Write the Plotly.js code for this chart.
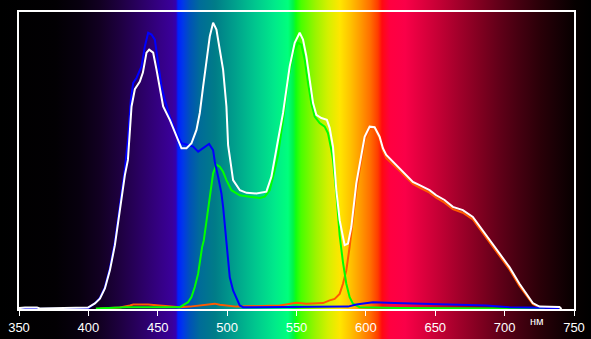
<!DOCTYPE html>
<html>
<head>
<meta charset="utf-8">
<script src="https://cdn.plot.ly/plotly-3.0.1.min.js"></script>
<style>
html,body{margin:0;padding:0;width:591px;height:339px;overflow:hidden;}
body{background:linear-gradient(to right,
 #000000 0px,#020003 55px,#08000f 80px,#120022 100px,#1e0040 120px,#2a0062 140px,#350085 160px,#3a009a 172px,#3400b0 176px,#0020ff 178px,#0038e8 183px,#0052b8 190px,#006c98 200px,#007c88 215px,#00a08c 235px,#00c68e 255px,#00ea8a 275px,#00ff7c 288px,#00f44a 293px,#10ff10 296px,#48ff00 301px,#98f400 315px,#d4f000 328px,#ffe600 340px,#ffc400 350px,#ff9c00 360px,#ff7000 370px,#ff3c00 378px,#ff0a10 382px,#ff0040 390px,#fa0048 405px,#e2003f 420px,#c20034 440px,#a0002a 460px,#800020 480px,#600018 500px,#440010 520px,#2a0008 540px,#150004 560px,#060000 575px,#000000 591px);}
#chart{width:591px;height:339px;}
</style>
</head>
<body>
<div id="chart"></div>
<script>
// Tick labels
const tickValues = [350, 400, 450, 500, 550, 600, 650, 700, 750];
const unitLabel = "нм";

// Total (white)
const whiteX = [350,354.3,363,365,399.7,404.7,408.3,411.9,415.5,419.1,422.7,426.3,428.5,431.1,433.5,437.1,439.3,441.9,443.8,446.7,449.1,451.5,453.9,458.7,463.5,467.1,470.7,474.3,477.9,480.3,482.7,485.1,487.5,489.9,492.3,494.7,497.1,499.5,500.7,501.9,504.3,509.2,514,521.1,528.3,531.9,534.3,536.7,540.3,545.1,548.7,552.3,554.7,557.1,559.5,561.9,564.3,567.9,571.9,573.9,576.3,578.7,581.1,584.7,587.1,589.5,593.1,596.7,599.1,602.7,606.3,609.9,612.3,614.7,619.5,624.3,629.1,633.9,638.7,645.9,650.7,656.7,662.7,669.9,677.1,681.4,689.1,696.3,703.5,710.7,715.5,720.3,725.1,739.5,741];
const whiteY = [0.3,0.5,0.5,0.2,0.5,1.9,3.5,6.9,13,21.5,33.3,45.1,50.2,68.2,74,76.6,79.6,86.3,87.3,86.3,80.6,74,68.2,63.7,58,54.1,54.1,55.8,60.3,66,74.9,84,91.8,96.4,94.1,87.3,80.6,68.2,55.2,51.3,43.4,40,39.1,38.9,39.5,44.5,51.3,56.9,66,81.7,89.6,93,90.7,85.1,77.2,69.4,65.4,64.3,63.7,61,54.7,40,29.9,21.5,22,27.6,42.3,52.4,58,61.4,61.2,58,54.1,51.9,49.6,47.4,45.1,42.8,41.7,40,38.3,36.7,34.4,33.3,31,28.2,23.1,18.6,14.1,8.5,5.1,2,0.8,0.7,0];

// Blue channel
const blueX = [350,399.7,404.7,408.3,411.9,415.5,419.1,422.7,426.3,428.5,430.6,432.3,434.7,438.3,440.7,443.1,445.5,447.9,450.3,452.7,455.1,458.7,463.5,467.1,471.9,475.5,479.1,482.7,487,489.9,491.1,493.5,495.9,497.1,499.5,500.7,501.9,504.3,506.7,509.1,511.5,561.7,587.1,593.1,600.3,605.1,620.7,656.7,686.7,703.5,739.5];
const blueY = [0,0.2,1.9,3.7,7.3,13.7,22.5,34.6,47.1,57,70.4,76.1,77.8,81.7,88.4,93,92.4,90.7,82.8,74.9,70.4,64.8,59.2,55.8,55.2,54.7,53,54.1,55.6,53.5,49.6,44.5,38.9,34.4,23.1,16.4,10.7,6.25,3.4,1.2,0.6,0.6,0.8,1.5,2.1,2.3,2,1.5,1.2,0.6,0.3];

// Green channel
const greenX = [405.4,417.9,427.5,465.9,468.3,471.9,474.3,476.7,479.1,480.3,482,483.2,486.3,487.5,489.9,492.3,494.7,497.1,499.5,503.1,509.1,516.3,523.5,527.1,530.7,534.3,536.7,540.3,543.9,547.5,551.1,553.5,555.9,558.3,560.7,563.1,566.7,570.3,572.7,575.1,576.3,578.7,581.1,583.5,585.9,588.3,590.7,595.5,624.3,728.7];
const greenY = [0.2,0.3,0.6,0.6,1.2,2.3,4,7.4,11.9,16.4,20.9,23.1,33.3,38.9,45.7,48.6,47.9,46.2,43.4,40,38.3,37.8,37.4,37.8,40,46.8,51.9,63.7,77.2,86.2,89.6,89,84,76.1,69.3,64.8,62.6,61.4,59.2,53.6,50.2,38.9,24.8,15.7,8.5,4,1.8,0.6,0.3,0.1];

// Red channel (orange)
const redX = [408.3,422.7,429.9,432.3,443.1,452.7,465.9,473.1,480.3,487.5,491.1,494.7,499.5,506.7,537.9,549.9,557.1,569.1,573.9,577.5,581.1,583.5,585.9,587.1,588.3,593.1,596.7,599.1,602.7,606.3,609.9,612.3,614.7,619.5,624.3,629.1,633.9,638.7,645.9,650.7,656.7,662.7,669.9,677.1,681.4,689.1,696.3,703.5,710.7,715.5,720.3,725.1,728.7];
const redY = [0.2,0.5,1.2,1.5,1.5,1.1,0.6,0.8,1.2,1.5,1.8,1.4,1.1,0.8,1.2,2.1,1.8,2,2.9,3.4,5.1,8.5,13,16.4,20.9,40,50.8,56.9,60.6,60.6,57.3,53.2,50.8,48.8,46.5,44.3,42.1,40.9,39.2,37.5,35.8,33.6,32.4,30.2,27.4,22.3,17.9,13.3,7.8,4.6,1.7,0.5,0.2];

const mk = (x, y, color) => ({x: x, y: y, type: 'scatter', mode: 'lines',
  line: {color: color, width: 2, shape: 'linear'}, hoverinfo: 'skip', showlegend: false});

const data = [
  mk(redX, redY, '#ff5a00'),
  mk(greenX, greenY, '#00ff00'),
  mk(blueX, blueY, '#0000ff'),
  mk(whiteX, whiteY, '#ffffff')
];

const layout = {
  width: 591, height: 339,
  margin: {l: 19, r: 17, t: 12, b: 30, pad: 0},
  paper_bgcolor: 'rgba(0,0,0,0)',
  plot_bgcolor: 'rgba(0,0,0,0)',
  showlegend: false,
  hovermode: false,
  xaxis: {
    range: [350, 750], tickvals: tickValues, ticktext: tickValues.map(String),
    ticks: 'outside', ticklen: 5, tickwidth: 1, tickcolor: '#ffffff',
    showline: true, linecolor: '#ffffff', linewidth: 2, mirror: true,
    showgrid: false, zeroline: false,
    tickfont: {family: 'Liberation Sans, Arial, sans-serif', size: 13, color: '#ffffff'}
  },
  yaxis: {
    range: [0, 100], showticklabels: false, ticks: '',
    showline: true, linecolor: '#ffffff', linewidth: 2, mirror: true,
    showgrid: false, zeroline: false
  },
  annotations: [{
    text: unitLabel, xref: 'x', yref: 'paper', x: 723.5, y: -0.042,
    xanchor: 'center', yanchor: 'middle', showarrow: false,
    font: {family: 'Liberation Sans, Arial, sans-serif', size: 11, color: '#ffffff'}
  }]
};

Plotly.newPlot('chart', data, layout, {staticPlot: true, displayModeBar: false});
</script>
</body>
</html>
